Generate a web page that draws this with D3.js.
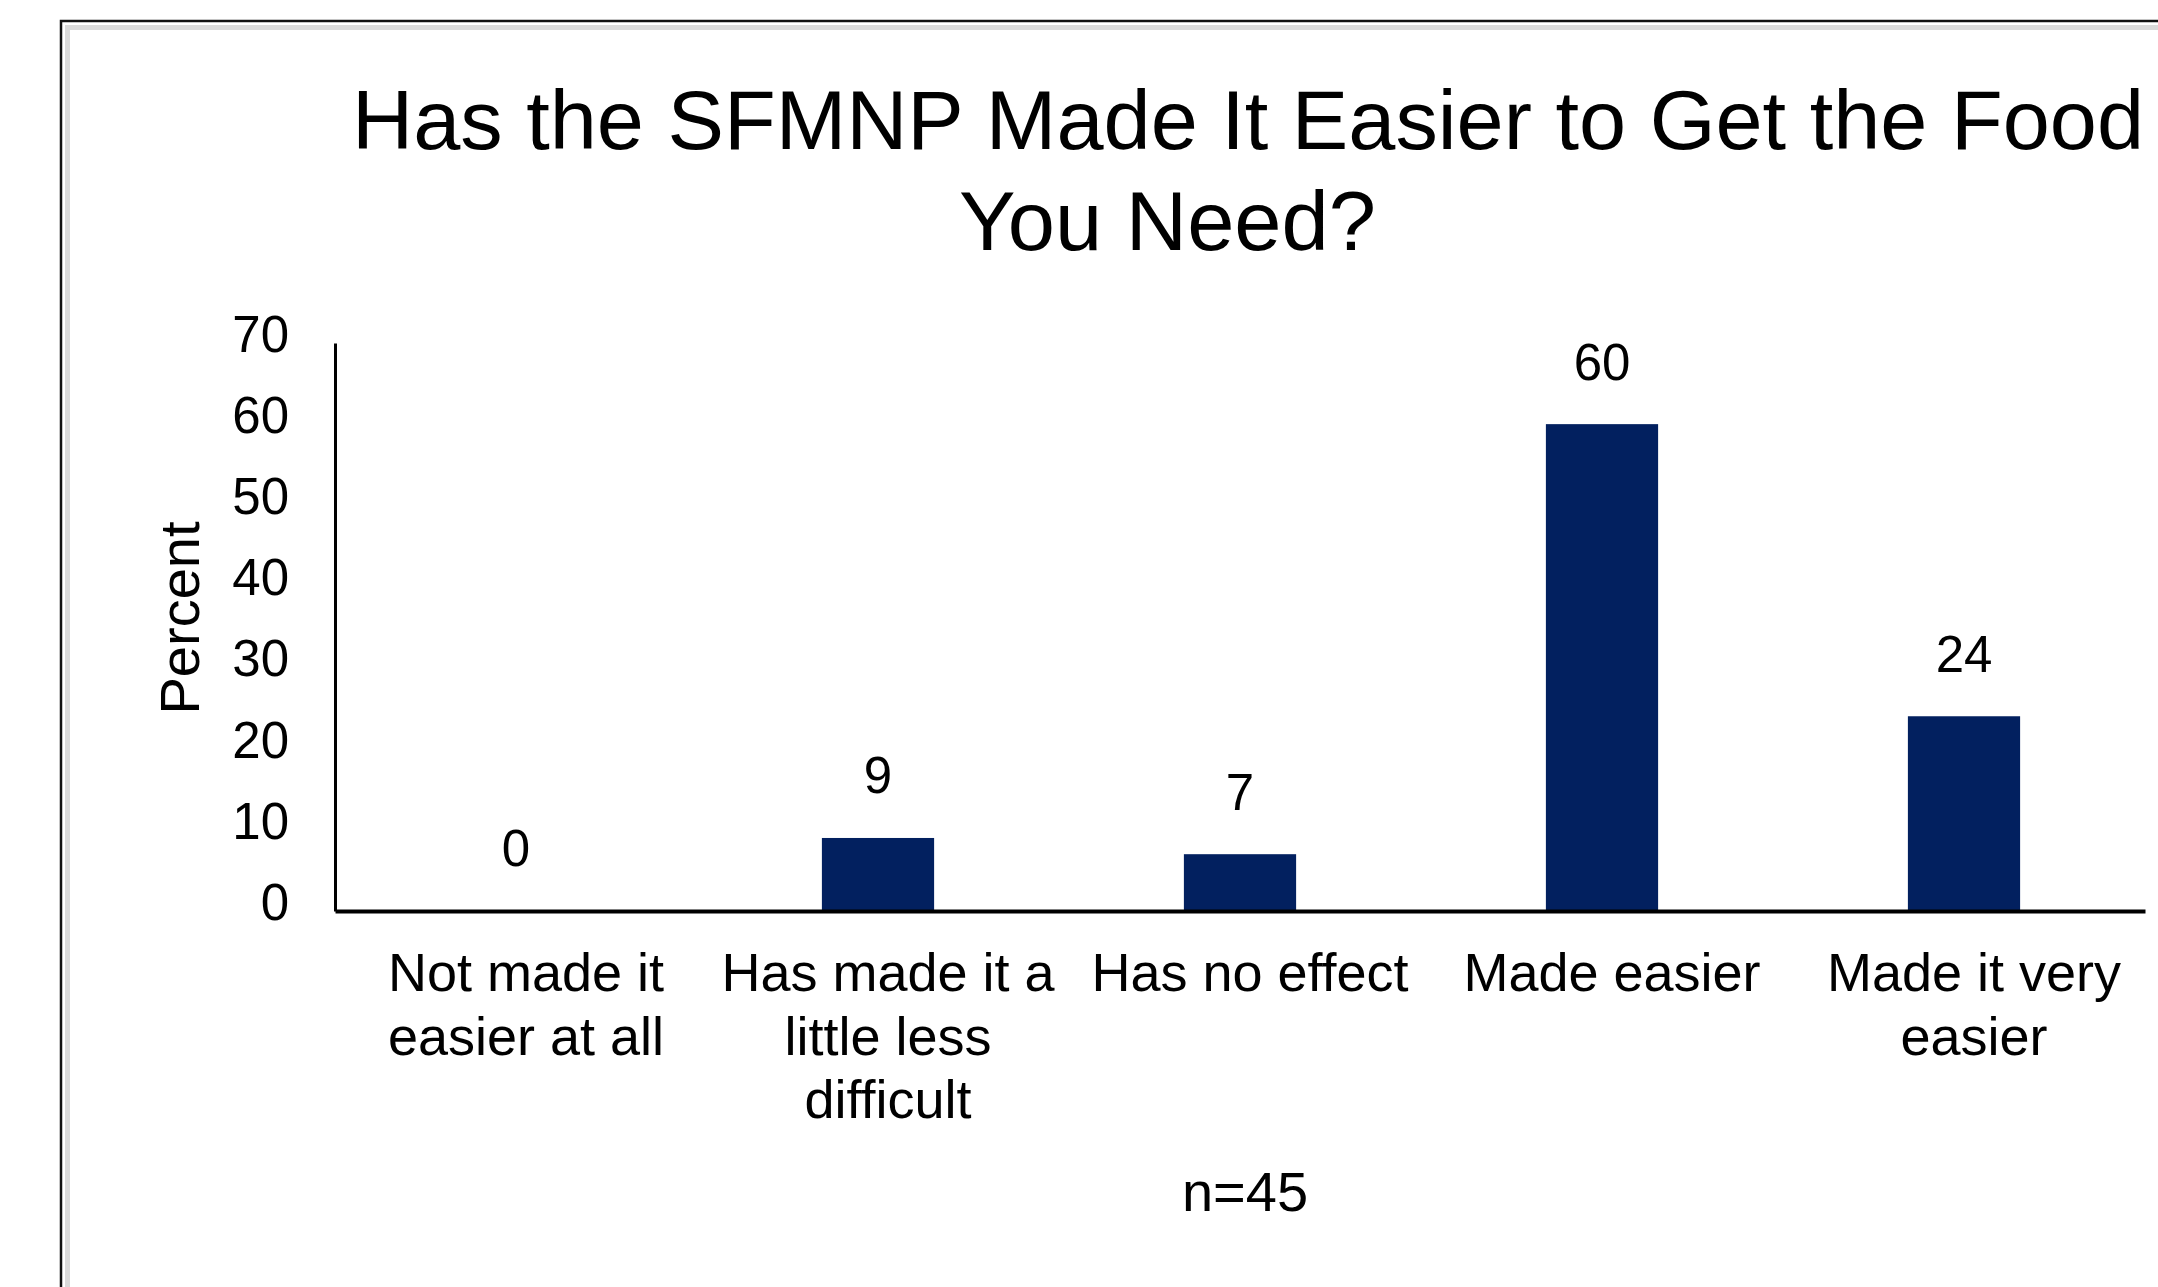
<!DOCTYPE html>
<html>
<head>
<meta charset="utf-8">
<script src="https://cdn.jsdelivr.net/npm/d3@7"></script>
<style>
  body { margin: 0; background: #fff; }
  svg { display: block; font-family: "Liberation Sans", Arial, sans-serif; }
</style>
</head>
<body>
<svg id="chart"></svg>
<script>
const titleLines = ["Has the SFMNP Made It Easier to Get the Food", "You Need?"];
const categories = [
  "Not made it easier at all",
  "Has made it a little less difficult",
  "Has no effect",
  "Made easier",
  "Made it very easier",
];
const categoryLines = [
  ["Not made it", "easier at all"],
  ["Has made it a", "little less", "difficult"],
  ["Has no effect"],
  ["Made easier"],
  ["Made it very", "easier"],
];
const percents = [0, 9, 7, 60, 24];
const yTicks = [0, 10, 20, 30, 40, 50, 60, 70];
const yLabel = "Percent";
const note = "n=45";

const width = 2158,
  height = 1287;

const svg = d3.select("#chart").attr("width", width).attr("height", height);

// outer frame (black rule + grey inner band)
svg.append("path")
  .attr("d", `M61,${height}V21H${width}`)
  .attr("fill", "none")
  .attr("stroke", "#111")
  .attr("stroke-width", 2.5);
svg.append("path")
  .attr("d", `M67.5,${height}V27.5H${width}`)
  .attr("fill", "none")
  .attr("stroke", "#d9d9d9")
  .attr("stroke-width", 5);

// title
const titleX = [352, 959],
  titleY = [149, 250],
  titleW = [1792, 417];
svg.selectAll(".title")
  .data(titleLines)
  .join("text")
  .attr("class", "title")
  .attr("x", (d, i) => titleX[i])
  .attr("y", (d, i) => titleY[i])
  .attr("textLength", (d, i) => titleW[i])
  .attr("lengthAdjust", "spacingAndGlyphs")
  .style("font-size", "83px")
  .attr("fill", "#000")
  .text((d) => d);

const x = d3
  .scaleBand()
  .domain(categories)
  .range([335, 2145])
  .paddingInner(0.69)
  .paddingOuter(0.345);

const y = d3.scaleLinear().domain([0, 70]).range([911, 343]);

// bars
svg.selectAll(".bar")
  .data(percents)
  .join("rect")
  .attr("class", "bar")
  .attr("x", (d, i) => x(categories[i]))
  .attr("y", (d) => y(d))
  .attr("width", x.bandwidth())
  .attr("height", (d) => y(0) - y(d))
  .attr("fill", "#02205f");

// value labels
svg.selectAll(".val")
  .data(percents)
  .join("text")
  .attr("class", "val")
  .attr("x", (d, i) => x(categories[i]) + x.bandwidth() / 2)
  .attr("y", (d) => y(d) - 63)
  .attr("dy", "0.36em")
  .attr("text-anchor", "middle")
  .style("font-size", "51px")
  .text((d) => d);

// y axis
const yAxis = svg.append("g")
  .attr("transform", "translate(335,0)")
  .call(d3.axisLeft(y).tickValues(yTicks).tickSize(0).tickSizeOuter(0).tickPadding(46));
yAxis.select(".domain").attr("stroke", "#000").attr("stroke-width", 3);
yAxis.selectAll("text")
  .attr("transform", "translate(0,-8)")
  .attr("fill", "#000")
  .style("font-size", "51px")
  .style("font-family", "'Liberation Sans', Arial, sans-serif");

// x axis
const xAxis = svg.append("g")
  .attr("transform", "translate(0,911)")
  .call(d3.axisBottom(x).tickSize(0).tickSizeOuter(0));
xAxis.select(".domain").attr("stroke", "#000").attr("stroke-width", 4);
xAxis.selectAll("text").remove();
xAxis.selectAll(".tick")
  .append("text")
  .attr("text-anchor", "middle")
  .attr("fill", "#000")
  .style("font-size", "54px")
  .style("font-family", "'Liberation Sans', Arial, sans-serif")
  .each(function (d) {
    const lines = categoryLines[categories.indexOf(d)];
    d3.select(this)
      .selectAll("tspan")
      .data(lines)
      .join("tspan")
      .attr("x", 10)
      .attr("y", (l, i) => 80 + i * 63.5)
      .text((l) => l);
  });

// axis title
svg.append("text")
  .attr("transform", "translate(179,618) rotate(-90)")
  .attr("text-anchor", "middle")
  .attr("dy", "0.36em")
  .style("font-size", "56px")
  .text(yLabel);

// sample size note
svg.append("text")
  .attr("x", 1245)
  .attr("y", 1211)
  .attr("text-anchor", "middle")
  .style("font-size", "56px")
  .text(note);
</script>
</body>
</html>
